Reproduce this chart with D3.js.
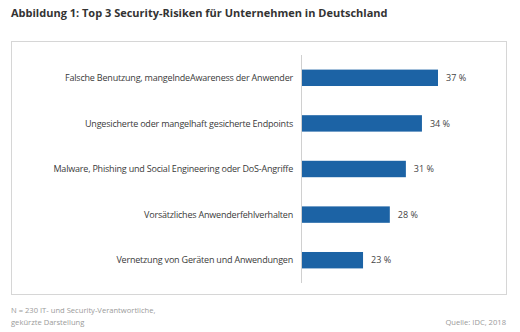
<!DOCTYPE html>
<html><head><meta charset="utf-8">
<script src="https://cdn.jsdelivr.net/npm/d3@7"></script>
<style>body{margin:0;background:#fff}svg{display:block}text{font-family:"Open Sans",sans-serif}</style>
</head><body>
<script>
const categories = [
  "Falsche Benutzung, mangelndeAwareness der Anwender",
  "Ungesicherte oder mangelhaft gesicherte Endpoints",
  "Malware, Phishing und Social Engineering oder DoS-Angriffe",
  "Vorsätzliches Anwenderfehlverhalten",
  "Vernetzung von Geräten und Anwendungen"
];
const values = [37, 34, 31, 28, 23];
const title = "Abbildung 1: Top 3 Security-Risiken für Unternehmen in Deutschland";
const noteLines = ["N = 230 IT- und Security-Verantwortliche,", "gekürzte Darstellung"];
const source = "Quelle: IDC, 2018";

const W = 520, H = 332;
const svg = d3.select("body").append("svg").attr("width", W).attr("height", H);

svg.append("text").attr("x", 11).attr("y", 16.5).attr("font-size", 11).attr("font-weight", 700)
  .attr("fill", "#333").text(title);

svg.append("rect").attr("x", 11.5).attr("y", 41.5).attr("width", 495).attr("height", 253)
  .attr("fill", "none").attr("stroke", "#d6d6d6").attr("stroke-width", 1);

const x = d3.scaleLinear().domain([11.6, 37]).range([302, 438]);
const y = d3.scaleBand().domain(categories).range([55, 283]).paddingInner(0.64).paddingOuter(0.32);

svg.append("line").attr("x1", 301.5).attr("x2", 301.5).attr("y1", 55).attr("y2", 283)
  .attr("stroke", "#d0d0d0").attr("stroke-width", 1);

svg.selectAll("rect.bar").data(categories).join("rect").attr("class", "bar")
  .attr("x", x.range()[0]).attr("y", d => y(d))
  .attr("width", (d, i) => x(values[i]) - x.range()[0]).attr("height", y.bandwidth())
  .attr("fill", "#1c63a5");

svg.selectAll("text.cat").data(categories).join("text").attr("class", "cat")
  .attr("x", 293).attr("y", d => y(d) + y.bandwidth() / 2).attr("dy", "0.35em")
  .attr("text-anchor", "end").attr("font-size", 9).attr("letter-spacing", -0.2)
  .attr("fill", "#3a3a3a").text(d => d);

svg.selectAll("text.val").data(categories).join("text").attr("class", "val")
  .attr("x", (d, i) => x(values[i]) + 8).attr("y", d => y(d) + y.bandwidth() / 2).attr("dy", "0.35em")
  .attr("font-size", 9).attr("fill", "#444").text((d, i) => values[i] + " %");

svg.selectAll("text.note").data(noteLines).join("text").attr("class", "note")
  .attr("x", 11).attr("y", (d, i) => 313 + i * 12).attr("font-size", 7.6).attr("fill", "#9a9a9a").text(d => d);

svg.append("text").attr("x", 506).attr("y", 325).attr("text-anchor", "end")
  .attr("font-size", 7.6).attr("fill", "#9a9a9a").text(source);
</script>
</body></html>
